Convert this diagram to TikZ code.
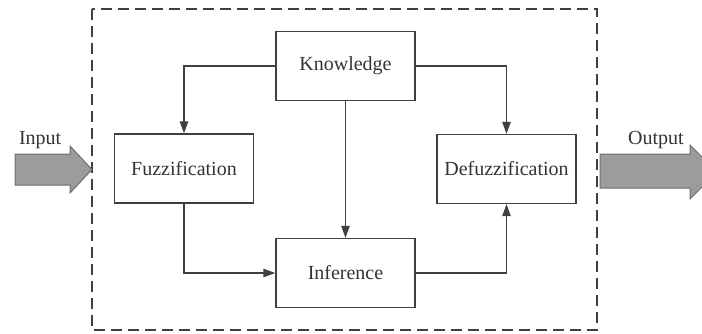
\documentclass[tikz,border=0pt]{standalone}
\usepackage{fontspec}
\setmainfont{Liberation Serif}
\usetikzlibrary{arrows.meta}
\definecolor{frame}{HTML}{404040}
\definecolor{label}{HTML}{333333}
\definecolor{bigfill}{HTML}{9C9C9C}
\definecolor{bigedge}{HTML}{6E6E6E}

\begin{document}
\begin{tikzpicture}[
  x=0.5pt, y=-0.5pt,
  line join=miter,
  every node/.style={font=\fontsize{10}{12}\selectfont, text=label},
  block/.style={draw=frame, line width=0.65pt, minimum width=69.5pt, minimum height=34.5pt, inner sep=0pt},
  link/.style={draw=frame, line width=0.65pt, -{Triangle[length=6pt, width=4.2pt]}},
  outline/.style={draw=frame, line width=0.6pt, dash pattern=on 5.5pt off 3pt},
  bigarrow/.style={fill=bigfill, draw=bigedge, line width=0.5pt},
]
\useasboundingbox (0,0) rectangle (702,333);
\clip (0,0) rectangle (702,333);
\draw[outline] (92,9) rectangle (597,330);
\node[block] (know) at (345.5,66) {Knowledge};
\node[block] (fuzz) at (184,168.5) {Fuzzification};
\node[block] (defuzz) at (506.5,169) {Defuzzification};
\node[block] (infer) at (345.5,273) {Inference};
\draw[link] (know.west) -| (fuzz.north);
\draw[link] (know.east) -| (defuzz.north);
\draw[link] (know.south) -- (infer.north);
\draw[link] (fuzz.south) |- (infer.west);
\draw[link] (infer.east) -| (defuzz.south);
\draw[bigarrow] (15,154) -- (70,154) -- (70,146) -- (92,169.5) -- (70,193) -- (70,185) -- (15,185) -- cycle;
\draw[bigarrow] (600,154) -- (690,154) -- (690,145) -- (717,172) -- (690,199) -- (690,188) -- (600,188) -- cycle;
\node[anchor=west] (input) at (12,140) {Input};
\node (output) at (656,140) {Output};
\end{tikzpicture}
\end{document}
